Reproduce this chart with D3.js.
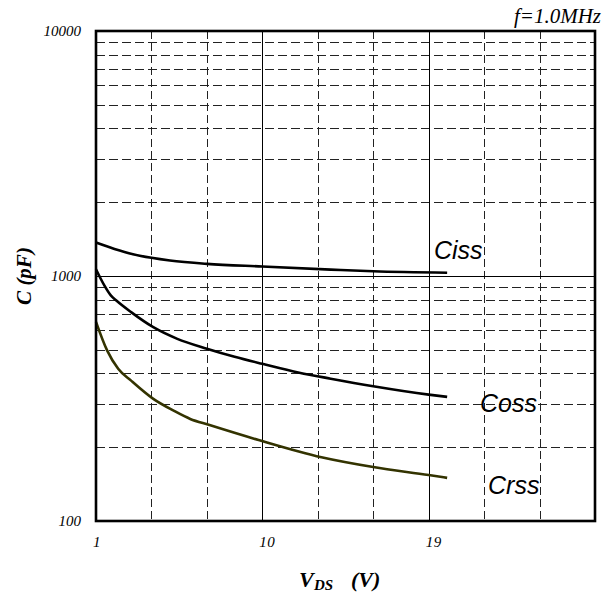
<!DOCTYPE html>
<html><head><meta charset="utf-8">
<script src="https://cdn.jsdelivr.net/npm/d3@7/dist/d3.min.js"></script>
<style>body{margin:0;background:#fff}svg{display:block}</style>
</head><body>
<svg id="chart" width="610" height="597"></svg>
<script>
// Data
const xTicks = [1, 10, 19];
const xSolidGrid = [10, 19];
const xDashedGrid = [4, 7, 13, 16, 22, 25];
const yTicks = [100, 1000, 10000];
const yTickLabels = ["100", "1000", "10000"];
const cissV = [1, 2, 3, 4, 5, 7, 10, 13.7, 16, 20];
const cissC = [1370, 1290, 1228, 1187, 1157, 1121, 1093, 1062, 1045, 1031];
const cossV = [1, 1.45, 1.8, 2.1, 2.9, 4.1, 5.4, 7, 8.5, 10, 12, 13.7, 16, 19, 20];
const cossC = [1065, 915, 833, 794, 712, 618, 554, 505, 468, 438, 403, 381, 355, 328, 321];
const crssV = [1, 1.6, 2.2, 2.9, 4.1, 5.2, 6.1, 7.1, 9.8, 13.2, 16, 19, 20];
const crssC = [650, 497, 418, 374, 315, 282, 261, 247, 214, 182, 166, 154, 150];
const seriesNames = ["Ciss", "Coss", "Crss"];

const svg = d3.select("#chart");
const L = 96, R = 595, T = 31, B = 521;
const x = d3.scaleLinear().domain([1, 28]).range([L, R]);
const y = d3.scaleLog().domain([100, 10000]).range([B, T]);

// dashed horizontal grid (2..9 x decade)
const yMinor = [];
[100, 1000].forEach(d => { for (let k = 2; k <= 9; k++) yMinor.push(d * k); });
const g = svg.append("g");
g.selectAll(".hd").data(yMinor).enter().append("line")
  .attr("x1", L).attr("x2", R)
  .attr("y1", d => Math.round(y(d)) + 0.5).attr("y2", d => Math.round(y(d)) + 0.5)
  .attr("stroke", "#222").attr("stroke-width", 1).attr("stroke-dasharray", "9,4");
g.selectAll(".vd").data(xDashedGrid).enter().append("line")
  .attr("y1", T).attr("y2", B)
  .attr("x1", d => Math.round(x(d)) + 0.5).attr("x2", d => Math.round(x(d)) + 0.5)
  .attr("stroke", "#222").attr("stroke-width", 1).attr("stroke-dasharray", "8,4");
g.selectAll(".vs").data(xSolidGrid).enter().append("line")
  .attr("y1", T).attr("y2", B)
  .attr("x1", d => Math.round(x(d)) + 0.5).attr("x2", d => Math.round(x(d)) + 0.5)
  .attr("stroke", "#000").attr("stroke-width", 1);
g.append("line").attr("x1", L).attr("x2", R)
  .attr("y1", Math.round(y(1000)) + 0.5).attr("y2", Math.round(y(1000)) + 0.5)
  .attr("stroke", "#000").attr("stroke-width", 1);

// curves
const line = d3.line().x(d => x(d[0])).y(d => y(d[1])).curve(d3.curveMonotoneX);
const series = [
  {v: cissV, c: cissC, color: "#000"},
  {v: cossV, c: cossC, color: "#000"},
  {v: crssV, c: crssC, color: "#333300"}
];
series.forEach(s => {
  svg.append("path").datum(s.v.map((v, i) => [v, s.c[i]]))
    .attr("d", line).attr("fill", "none")
    .attr("stroke", s.color).attr("stroke-width", 2.6);
});

// frame
svg.append("rect").attr("x", L).attr("y", T).attr("width", R - L).attr("height", B - T)
  .attr("fill", "none").attr("stroke", "#000").attr("stroke-width", 2.6);

// series labels
const labelPos = [[434, 259], [480, 412], [488, 494]];
seriesNames.forEach((n, i) => {
  svg.append("text").attr("x", labelPos[i][0]).attr("y", labelPos[i][1])
    .attr("font-family", "Liberation Sans, Arial, sans-serif").attr("font-style", "italic")
    .attr("font-size", 25).attr("fill", "#000").text(n);
});

// y tick labels
svg.selectAll(".yl").data(yTicks).enter().append("text")
  .attr("x", 81).attr("y", d => y(d) + 5)
  .attr("text-anchor", "end")
  .attr("font-family", "Liberation Serif, Times New Roman, serif").attr("font-style", "italic")
  .attr("font-size", 15).text((d, i) => yTickLabels[i]);

// x tick labels
svg.selectAll(".xl").data(xTicks).enter().append("text")
  .attr("x", d => x(d) - 3).attr("y", 547)
  .attr("text-anchor", "start")
  .attr("font-family", "Liberation Serif, Times New Roman, serif").attr("font-style", "italic")
  .attr("font-size", 15).attr("letter-spacing", 0.5).text(d => d);

// axis titles
const tf = "Liberation Serif, Times New Roman, serif";
svg.append("text").attr("x", 299).attr("y", 587)
  .attr("font-family", tf).attr("font-style", "italic").attr("font-weight", "bold")
  .attr("font-size", 22).text("V");
svg.append("text").attr("x", 314).attr("y", 589.5)
  .attr("font-family", tf).attr("font-style", "italic").attr("font-weight", "bold")
  .attr("font-size", 15).text("DS");
svg.append("text").attr("x", 351).attr("y", 587)
  .attr("font-family", tf).attr("font-style", "italic").attr("font-weight", "bold")
  .attr("font-size", 22).text("(V)");

svg.append("text").attr("transform", "translate(31,276) rotate(-90)").attr("text-anchor", "middle")
  .attr("font-family", tf).attr("font-style", "italic")
  .attr("font-weight", "bold").attr("font-size", 21).text("C (pF)");

svg.append("text").attr("x", 601).attr("y", 23).attr("text-anchor", "end")
  .attr("font-family", tf).attr("font-style", "italic")
  .attr("font-size", 21).text("f=1.0MHz");
</script>
</body></html>
